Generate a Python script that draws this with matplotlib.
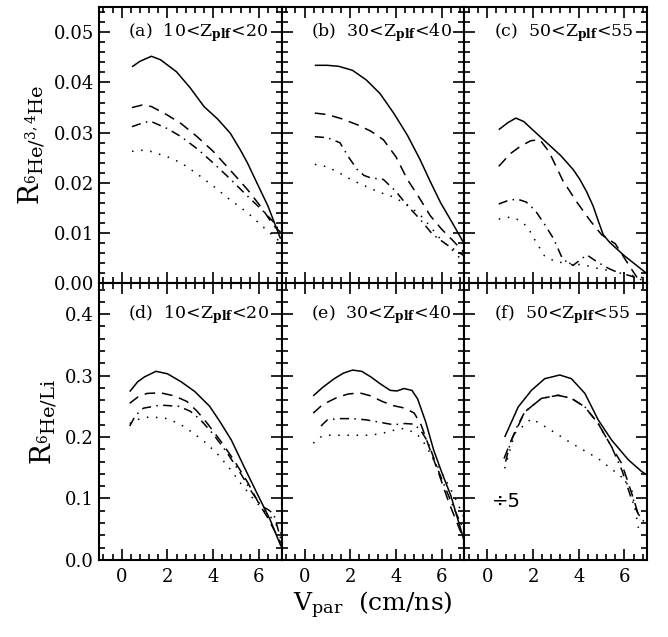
import matplotlib
matplotlib.use("Agg")
import matplotlib.pyplot as plt
from matplotlib.ticker import MultipleLocator

plt.rcParams['font.family'] = ['DejaVu Serif']
plt.rcParams['mathtext.fontset'] = 'dejavuserif'

# panel labels
labels = ['(a)', '(b)', '(c)', '(d)', '(e)', '(f)']
z_ranges = ['10<Z$_{\\mathbf{plf}}$<20', '30<Z$_{\\mathbf{plf}}$<40', '50<Z$_{\\mathbf{plf}}$<55']

# ---- top row: R(6He/3,4He) ----
a_solid = ([0.45, 0.8, 1.3, 1.7, 2.4, 3.0, 3.6, 4.2, 4.75, 5.2, 5.5, 6.0, 6.4, 6.95],
           [0.0431, 0.0442, 0.0452, 0.0445, 0.0421, 0.0389, 0.0352, 0.0327, 0.0299, 0.0265, 0.024, 0.0192, 0.0154, 0.0089])
a_dash = ([0.45, 0.9, 1.3, 2.0, 2.6, 3.3, 4.0, 4.7, 5.5, 6.1, 6.65, 6.95],
          [0.035, 0.0355, 0.0352, 0.0335, 0.0318, 0.0292, 0.0263, 0.0228, 0.0187, 0.0152, 0.0115, 0.0102])
a_dashdot = ([0.45, 0.9, 1.25, 2.0, 2.6, 3.3, 4.0, 4.7, 5.5, 6.1, 6.65, 6.95],
             [0.0312, 0.0319, 0.0323, 0.0308, 0.0292, 0.0268, 0.024, 0.021, 0.0174, 0.0148, 0.0122, 0.0102])
a_dot = ([0.45, 0.9, 1.25, 2.0, 2.6, 3.3, 4.0, 4.7, 5.5, 6.2, 6.95],
         [0.0263, 0.0265, 0.0263, 0.0252, 0.024, 0.0218, 0.0194, 0.0168, 0.0141, 0.0112, 0.0082])

b_solid = ([0.45, 1.0, 1.5, 2.1, 2.7, 3.3, 3.9, 4.5, 5.05, 5.5, 5.95, 6.5, 6.95],
           [0.0434, 0.0434, 0.0432, 0.0424, 0.0405, 0.0378, 0.0339, 0.0295, 0.0247, 0.0203, 0.0161, 0.0118, 0.0082])
b_dash = ([0.45, 1.0, 1.6, 2.3, 2.9, 3.45, 4.0, 4.5, 5.0, 5.5, 6.0, 6.5, 6.95],
          [0.0339, 0.0336, 0.0328, 0.0316, 0.0303, 0.0286, 0.0252, 0.0207, 0.0172, 0.0135, 0.0108, 0.0085, 0.0063])
b_dashdot = ([0.45, 1.0, 1.55, 1.95, 2.3, 2.6, 2.9, 3.45, 4.0, 4.5, 5.05, 5.6, 6.2, 6.95],
             [0.0292, 0.029, 0.028, 0.025, 0.0227, 0.0215, 0.021, 0.0207, 0.0183, 0.0155, 0.0128, 0.0098, 0.0078, 0.0056])
b_dot = ([0.45, 1.0, 1.6, 2.1, 2.7, 3.3, 3.9, 4.6, 5.2, 5.9, 6.5, 6.95],
         [0.0237, 0.0232, 0.0218, 0.0205, 0.0193, 0.0181, 0.0172, 0.0154, 0.013, 0.0091, 0.0065, 0.0043])

c_solid = ([0.5, 0.9, 1.25, 1.6, 2.0, 2.6, 3.2, 3.75, 4.05, 4.35, 4.63, 4.85, 5.07, 5.35, 5.66, 6.0, 6.5, 6.97],
           [0.0306, 0.032, 0.0329, 0.0322, 0.0305, 0.028, 0.0255, 0.0227, 0.0207, 0.0182, 0.0154, 0.0125, 0.0097, 0.0082, 0.0069, 0.0055, 0.0037, 0.002])
c_dash = ([0.5, 1.0, 1.45, 1.9, 2.3, 2.7, 3.3, 3.9, 4.5, 5.0, 5.6, 6.2, 6.55],
          [0.0233, 0.0258, 0.0273, 0.0284, 0.0286, 0.0262, 0.0205, 0.0163, 0.0125, 0.0097, 0.0079, 0.0036, 0.0012])
c_dashdot = ([0.5, 0.9, 1.3, 1.7, 2.1, 2.5, 2.9, 3.3, 3.75, 4.1, 4.35, 4.8, 5.3, 5.7, 6.2, 6.6, 6.97],
             [0.0158, 0.0165, 0.0168, 0.0162, 0.0145, 0.0118, 0.0089, 0.0048, 0.0036, 0.0048, 0.0057, 0.0043, 0.003, 0.0022, 0.0016, 0.001, 0.0003])
c_dot = ([0.5, 1.0, 1.4, 1.75, 2.1, 2.5, 3.0, 3.6, 4.3, 5.0, 5.8, 6.4, 6.97],
         [0.0128, 0.0132, 0.0126, 0.0113, 0.0085, 0.0055, 0.0043, 0.004, 0.0036, 0.0028, 0.0023, 0.0015, 0.001])

# ---- bottom row: R(6He/Li) ----
d_solid = ([0.35, 0.7, 1.0, 1.5, 2.0, 2.6, 3.2, 3.85, 4.3, 4.8, 5.35, 5.9, 6.5, 6.97],
           [0.274, 0.29, 0.298, 0.307, 0.303, 0.29, 0.274, 0.25, 0.225, 0.195, 0.152, 0.11, 0.065, 0.022])
d_dash = ([0.35, 0.7, 1.1, 1.7, 2.3, 2.85, 3.3, 3.75, 4.3, 4.9, 5.5, 6.0, 6.4, 6.97],
          [0.255, 0.265, 0.271, 0.272, 0.267, 0.258, 0.242, 0.222, 0.195, 0.163, 0.127, 0.092, 0.068, 0.027])
d_dashdot = ([0.35, 0.6, 0.95, 1.7, 2.5, 3.0, 3.45, 4.0, 4.6, 5.2, 5.7, 6.1, 6.4, 6.65, 6.97],
             [0.218, 0.235, 0.247, 0.252, 0.25, 0.242, 0.228, 0.205, 0.175, 0.141, 0.11, 0.088, 0.082, 0.075, 0.033])
d_dot = ([0.35, 0.8, 1.25, 2.0, 2.6, 3.15, 3.7, 4.2, 4.7, 5.2, 5.7, 6.2, 6.65, 6.97],
         [0.222, 0.23, 0.233, 0.23, 0.22, 0.206, 0.19, 0.172, 0.15, 0.125, 0.102, 0.081, 0.065, 0.043])

e_solid = ([0.38, 0.8, 1.3, 1.7, 2.1, 2.5, 2.9, 3.3, 3.75, 4.05, 4.35, 4.7, 4.95, 5.3, 5.65, 6.0, 6.4, 6.97],
           [0.267, 0.281, 0.295, 0.304, 0.309, 0.307, 0.298, 0.287, 0.276, 0.275, 0.279, 0.276, 0.262, 0.225, 0.179, 0.143, 0.105, 0.033])
e_dash = ([0.38, 0.8, 1.4, 1.9, 2.4, 2.9, 3.4, 3.9, 4.4, 4.8, 5.1, 5.5, 5.9, 6.3, 6.97],
          [0.239, 0.253, 0.264, 0.27, 0.272, 0.267, 0.258, 0.251, 0.247, 0.239, 0.22, 0.179, 0.138, 0.095, 0.033])
e_dashdot = ([0.72, 1.0, 1.5, 2.1, 2.7, 3.3, 3.9, 4.4, 4.8, 5.1, 5.4, 5.9, 6.5, 6.97],
             [0.218, 0.228, 0.23, 0.23, 0.228, 0.224, 0.22, 0.222, 0.221, 0.21, 0.192, 0.141, 0.087, 0.049])
e_dot = ([0.38, 0.7, 1.0, 1.6, 2.2, 2.9, 3.5, 4.0, 4.35, 4.9, 5.3, 5.65, 6.1, 6.5, 6.97],
         [0.19, 0.2, 0.203, 0.203, 0.203, 0.203, 0.207, 0.212, 0.214, 0.206, 0.187, 0.163, 0.135, 0.108, 0.07])

f_solid = ([0.76, 1.35, 1.93, 2.51, 3.17, 3.68, 4.27, 4.85, 5.44, 6.17, 6.75, 7.0],
           [0.2, 0.249, 0.276, 0.295, 0.301, 0.295, 0.271, 0.228, 0.195, 0.163, 0.144, 0.138])
f_dash = ([0.73, 1.05, 1.64, 2.37, 3.1, 3.68, 4.27, 4.85, 5.44, 5.88, 6.17, 6.46, 6.68],
          [0.165, 0.195, 0.241, 0.263, 0.268, 0.263, 0.249, 0.222, 0.184, 0.157, 0.125, 0.092, 0.065])
f_dashdot = ([0.8, 1.0, 1.3, 1.64, 2.37, 3.1, 3.68, 4.27, 4.85, 5.44, 5.9, 6.3, 6.6, 6.9],
             [0.16, 0.19, 0.217, 0.241, 0.263, 0.268, 0.263, 0.249, 0.222, 0.184, 0.145, 0.1, 0.075, 0.06])
f_dot = ([0.76, 1.2, 1.93, 2.66, 3.68, 4.85, 5.88, 6.32, 6.61],
         [0.149, 0.206, 0.23, 0.214, 0.19, 0.165, 0.135, 0.114, 0.052])

panels = [[a_solid, a_dash, a_dashdot, a_dot],
          [b_solid, b_dash, b_dashdot, b_dot],
          [c_solid, c_dash, c_dashdot, c_dot],
          [d_solid, d_dash, d_dashdot, d_dot],
          [e_solid, e_dash, e_dashdot, e_dot],
          [f_solid, f_dash, f_dashdot, f_dot]]

# line styles: solid, dashed, dash-dot, dotted
styles = [(0, ()), (0, (7, 4.5)), (0, (6, 3.5, 1, 3.5)), (0, (1, 5))]

fig, axes = plt.subplots(2, 3, figsize=(6.68, 6.37), dpi=100)
fig.subplots_adjust(left=0.148, right=0.969, top=0.989, bottom=0.121, wspace=0, hspace=0)

for i, ax in enumerate(axes.flat):
    row = i // 3
    for (xs, ys), ls in zip(panels[i], styles):
        ax.plot(xs, ys, color='black', lw=1.1, linestyle=ls)
    ax.set_xlim(-1, 7)
    ax.xaxis.set_major_locator(MultipleLocator(2))
    ax.xaxis.set_minor_locator(MultipleLocator(0.4))
    if row == 0:
        ax.set_ylim(0, 0.055)
        ax.yaxis.set_major_locator(MultipleLocator(0.01))
        ax.yaxis.set_minor_locator(MultipleLocator(0.002))
        ax.text(0.28, 0.05, labels[i] + '  ' + z_ranges[i % 3], fontsize=12.5, va='center', ha='left')
        ax.tick_params(labelbottom=False)
    else:
        ax.set_ylim(0, 0.45)
        ax.yaxis.set_major_locator(MultipleLocator(0.1))
        ax.yaxis.set_minor_locator(MultipleLocator(0.02))
        ax.text(0.28, 0.4, labels[i] + '  ' + z_ranges[i % 3], fontsize=12.5, va='center', ha='left')
    ax.tick_params(which='both', direction='in', top=True, right=True, width=1.2, labelsize=13)
    ax.tick_params(which='major', length=8)
    ax.tick_params(which='minor', length=4)
    ax.tick_params(axis='x', pad=6)
    for sp in ax.spines.values():
        sp.set_linewidth(1.5)
    if i % 3 != 0:
        ax.tick_params(labelleft=False)

axes[0, 0].yaxis.set_major_formatter(plt.FormatStrFormatter('%.2f'))
axes[1, 0].yaxis.set_major_formatter(plt.FormatStrFormatter('%.1f'))
axes[0, 0].set_ylabel(r'$\mathrm{R}_{^6\mathrm{He}/^{3,4}\mathrm{He}}$', fontsize=20, labelpad=4)
axes[1, 0].set_ylabel(r'$\mathrm{R}_{^6\mathrm{He}/\mathrm{Li}}$', fontsize=20, labelpad=4)
axes[1, 2].text(0.2, 0.095, '÷5', fontsize=14, va='center', ha='left', family='DejaVu Sans')

fig.text(0.558, 0.05, r'$\mathrm{V}_{\mathrm{par}}$  (cm/ns)', fontsize=18, ha='center', va='center')

fig.savefig('out.png', dpi=100)
